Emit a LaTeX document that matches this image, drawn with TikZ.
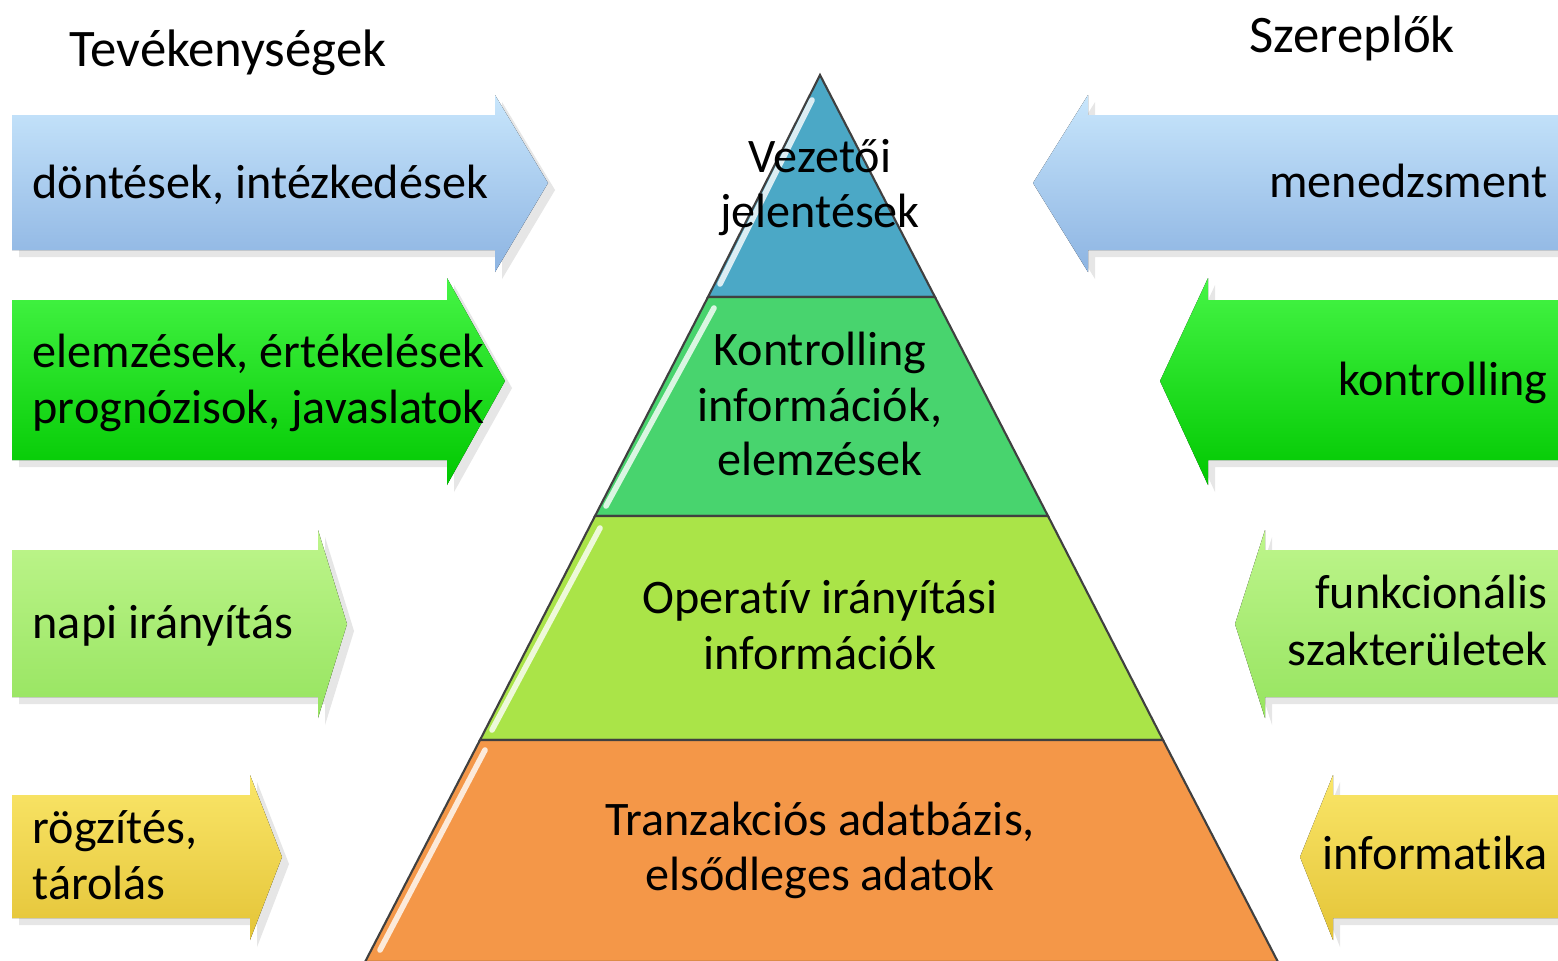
\documentclass[tikz,border=0pt]{standalone}
\usepackage{fontspec}
\setmainfont{Carlito}[Ligatures=NoCommon]
\usepackage{tikz}
\usepackage{xcolor}
\usetikzlibrary{shadows}

\definecolor{arrblue}{RGB}{141,180,226}
\definecolor{arrbluetop}{RGB}{200,230,252}
\definecolor{arrgreen}{RGB}{0,200,0}
\definecolor{arrgreentop}{RGB}{70,245,70}
\definecolor{arrlime}{RGB}{150,228,95}
\definecolor{arrlimetop}{RGB}{190,245,140}
\definecolor{arryellow}{RGB}{228,196,55}
\definecolor{arryellowtop}{RGB}{250,230,105}
\definecolor{laytop}{RGB}{75,168,198}
\definecolor{laykontr}{RGB}{72,212,110}
\definecolor{layoper}{RGB}{170,228,72}
\definecolor{laytranz}{RGB}{244,151,72}

\begin{document}
\begin{tikzpicture}[x=0.01cm,y=-0.01cm,
    arrow/.style={drop shadow={opacity=0.2,shadow xshift=2pt,shadow yshift=-2pt}},
    layer/.style={draw=black!75,line width=0.6pt},
    shine/.style={white,line width=1.6pt,opacity=0.8,line cap=round},
    lbl/.style={font=\fontsize{13.7}{15.8}\selectfont,inner sep=0pt},
    title/.style={font=\fontsize{15}{17}\selectfont,inner sep=0pt}]
  \useasboundingbox (0,0) rectangle (1558,960);

  % titles
  \node[title,anchor=base] (tev) at (228,66) {Tevékenységek};
  \node[title,anchor=base] (szer) at (1352,52) {Szereplők};

  % left arrows (activities)
  \fill[arrow,top color=arrbluetop,middle color=arrblue,bottom color=arrblue]
    (12,115) -- (495,115) -- (495,95) -- (548,183) -- (495,272) -- (495,250) -- (12,250) -- cycle;
  \fill[arrow,top color=arrgreentop,middle color=arrgreen,bottom color=arrgreen]
    (12,300) -- (447,300) -- (447,278) -- (505,381) -- (447,485) -- (447,460) -- (12,460) -- cycle;
  \fill[arrow,top color=arrlimetop,middle color=arrlime,bottom color=arrlime]
    (12,550) -- (318,550) -- (318,530) -- (347,624) -- (318,718) -- (318,697) -- (12,697) -- cycle;
  \fill[arrow,top color=arryellowtop,middle color=arryellow,bottom color=arryellow]
    (12,795) -- (250,795) -- (250,775) -- (282,857) -- (250,940) -- (250,918) -- (12,918) -- cycle;

  % right arrows (actors)
  \fill[arrow,top color=arrbluetop,middle color=arrblue,bottom color=arrblue]
    (1558,115) -- (1088,115) -- (1088,95) -- (1033,183) -- (1088,272) -- (1088,250) -- (1558,250) -- cycle;
  \fill[arrow,top color=arrgreentop,middle color=arrgreen,bottom color=arrgreen]
    (1558,300) -- (1208,300) -- (1208,278) -- (1160,381) -- (1208,485) -- (1208,460) -- (1558,460) -- cycle;
  \fill[arrow,top color=arrlimetop,middle color=arrlime,bottom color=arrlime]
    (1558,550) -- (1265,550) -- (1265,530) -- (1235,624) -- (1265,718) -- (1265,697) -- (1558,697) -- cycle;
  \fill[arrow,top color=arryellowtop,middle color=arryellow,bottom color=arryellow]
    (1558,795) -- (1333,795) -- (1333,775) -- (1300,857) -- (1333,940) -- (1333,918) -- (1558,918) -- cycle;

  % pyramid
  \filldraw[layer,fill=laytop] (820,75) -- (935,297) -- (708,297) -- cycle;
  \filldraw[layer,fill=laykontr] (708,297) -- (935,297) -- (1048,516) -- (595,516) -- cycle;
  \filldraw[layer,fill=layoper] (595,516) -- (1048,516) -- (1163,740) -- (480,740) -- cycle;
  \filldraw[layer,fill=laytranz] (480,740) -- (1163,740) -- (1278,962) -- (365,962) -- cycle;
  \draw[shine] (812,100) -- (720,284);
  \draw[shine] (714,308) -- (606,506);
  \draw[shine] (600,528) -- (492,730);
  \draw[shine] (485,750) -- (380,950);

  % left texts
  \node[lbl,anchor=base west] (dontes) at (32,198) {döntések, intézkedések};
  \node[lbl,anchor=base west] (elemz) at (32,367) {elemzések, értékelések};
  \node[lbl,anchor=base west] (progn) at (32,423) {prognózisok, javaslatok};
  \node[lbl,anchor=base west] (napi) at (32,638) {napi irányítás};
  \node[lbl,anchor=base west] (rogz) at (32,843) {rögzítés,};
  \node[lbl,anchor=base west] (tarol) at (32,899) {tárolás};

  % right texts
  \node[lbl,anchor=base east] (menedzs) at (1548,197) {menedzsment};
  \node[lbl,anchor=base east] (kontr) at (1548,395) {kontrolling};
  \node[lbl,anchor=base east] (funk) at (1548,608) {funkcionális};
  \node[lbl,anchor=base east] (szakt) at (1548,665) {szakterületek};
  \node[lbl,anchor=base east] (infor) at (1548,869) {informatika};

  % pyramid texts
  \node[lbl,anchor=base] (vez1) at (820,172) {Vezetői};
  \node[lbl,anchor=base] (vez2) at (820,227) {jelentések};
  \node[lbl,anchor=base] (kon1) at (820,365) {Kontrolling};
  \node[lbl,anchor=base] (kon2) at (820,421) {információk,};
  \node[lbl,anchor=base] (kon3) at (820,475) {elemzések};
  \node[lbl,anchor=base] (ope1) at (820,613) {Operatív irányítási};
  \node[lbl,anchor=base] (ope2) at (820,669) {információk};
  \node[lbl,anchor=base] (tra1) at (820,835) {Tranzakciós adatbázis,};
  \node[lbl,anchor=base] (tra2) at (820,890) {elsődleges adatok};
\end{tikzpicture}
\end{document}
